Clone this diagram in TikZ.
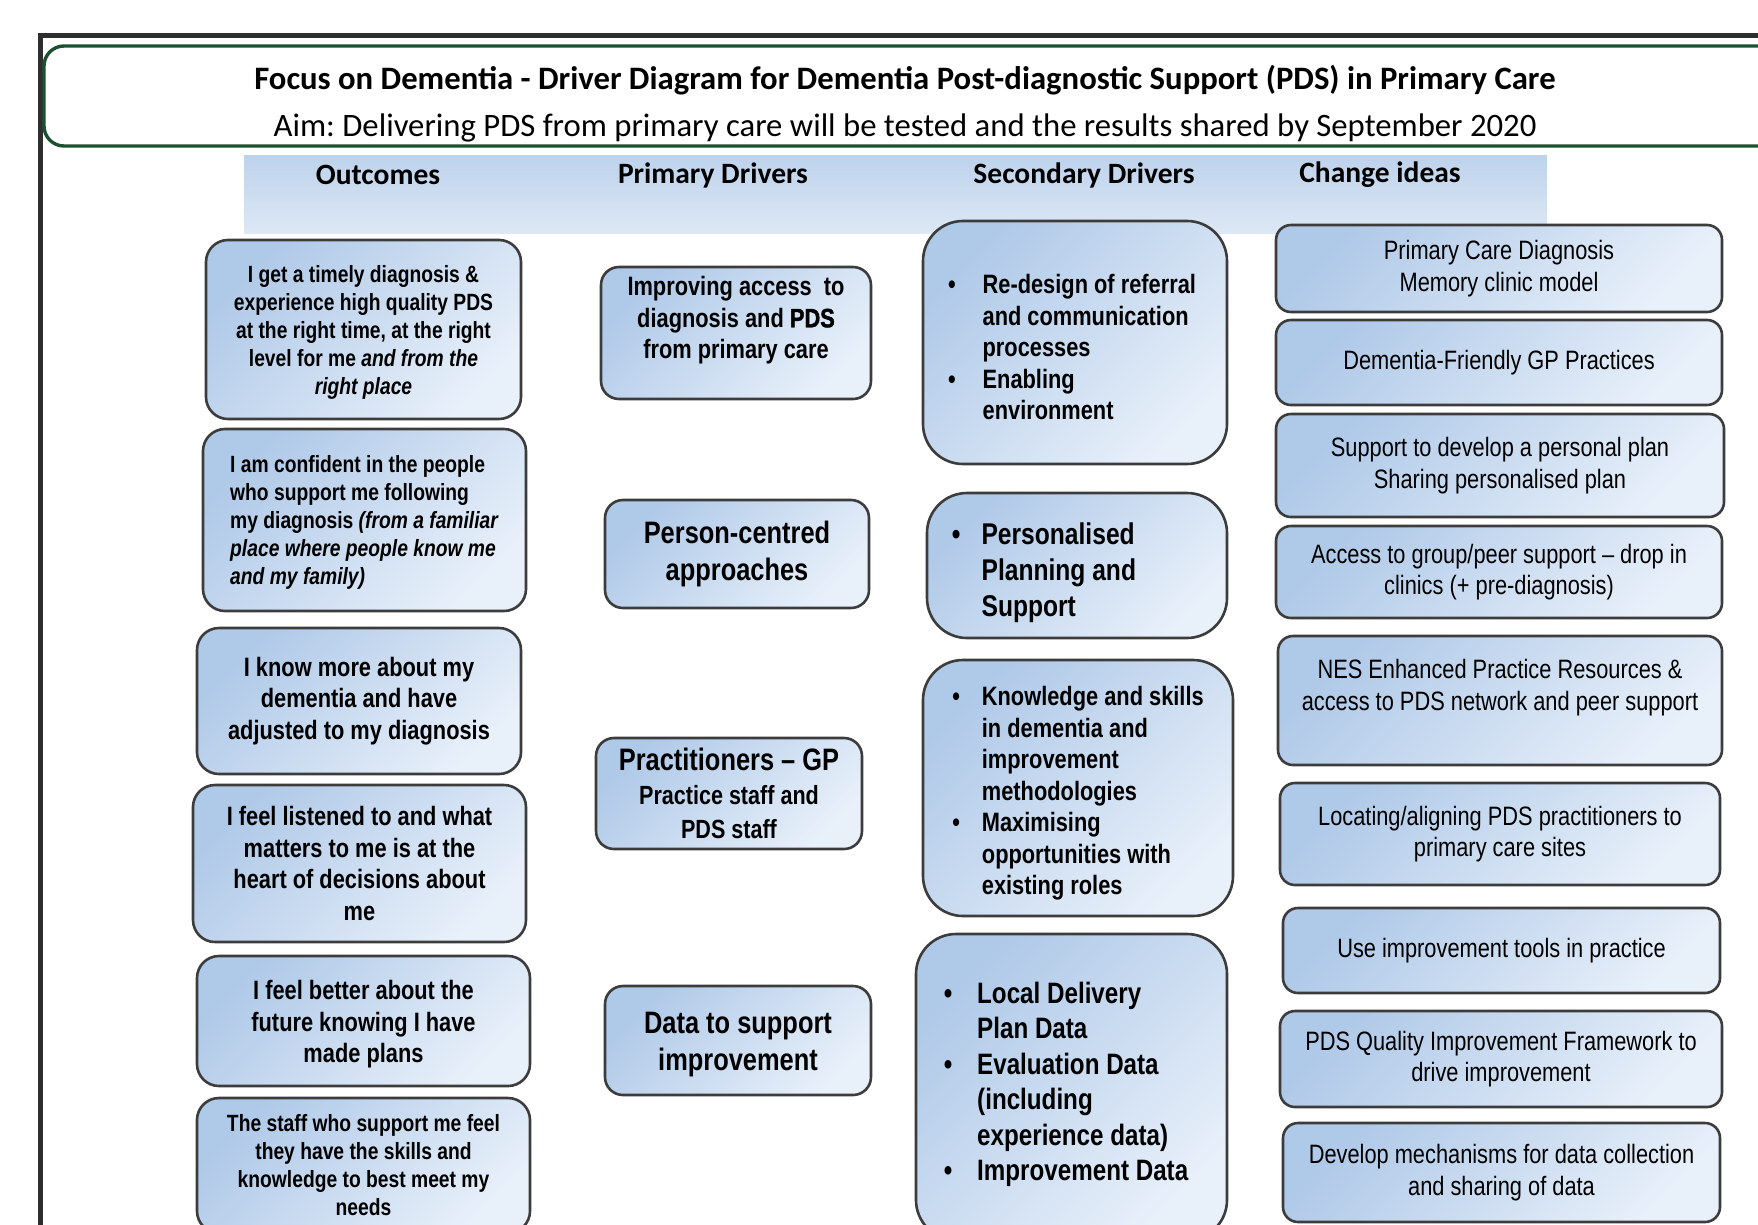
\documentclass[tikz,border=0pt]{standalone}
\usepackage{fontspec}
\setmainfont{Liberation Sans}
\newfontfamily\calib{Carlito}
\newfontfamily\narrow[FakeStretch=0.82]{Liberation Sans}
\newfontfamily\heavy[FakeStretch=0.82,FakeBold=1.4]{Liberation Sans Bold}
\frenchspacing
\definecolor{boxtop}{HTML}{AFC9E8}
\definecolor{boxbot}{HTML}{E8F0FA}
\definecolor{boxline}{HTML}{3C3C3C}
\definecolor{framegray}{HTML}{2E2E2E}
\definecolor{titlegreen}{HTML}{1C5030}
\definecolor{bandtop}{HTML}{BDD2EC}
\definecolor{bandbot}{HTML}{DDE8F5}
\tikzset{
  box/.style={draw=boxline, line width=2.6pt, top color=boxtop, bottom color=boxbot,
    shading angle=45, align=center, inner sep=0pt},
  outbox/.style={box, rounded corners=22pt},
  pribox/.style={box, rounded corners=18pt},
  secbox/.style={box, rounded corners=40pt},
  chgbox/.style={box, rounded corners=15pt, font=\narrow\fontsize{26.6}{31.5}\selectfont},
  head/.style={font=\calib\bfseries\fontsize{29.5}{31}\selectfont, inner sep=0pt}
}
\newcommand{\smalltxt}{\narrow\bfseries\fontsize{23.5}{28}\selectfont}
\newcommand{\midtxt}{\narrow\bfseries\fontsize{26.6}{31.5}\selectfont}
\newcommand{\bigtxt}{\narrow\bfseries\fontsize{31}{37}\selectfont}
\newcommand{\bul}{\textbullet}
% shift a block of text inside its box, keeping the box where it is
\newcommand{\nudge}[2]{\raisebox{#1}[\height][\depth]{#2}}
\begin{document}
\begin{tikzpicture}[x=1pt,y=-1pt]
\useasboundingbox (0,0) rectangle (1758,1224);
\clip (0,0) rectangle (1758,1224);

% frame and title
\draw[framegray, line width=5pt] (40,1300) -- (40,35) -- (1800,35);
\draw[titlegreen, line width=3.4pt, rounded corners=20pt] (1800,46) -- (44,46) -- (44,146) -- (1800,146);
\node[font=\calib\bfseries\fontsize{32.7}{35}\selectfont, inner sep=0pt] (title) at (905,80)
  {Focus on Dementia - Driver Diagram for Dementia Post-diagnostic Support (PDS) in Primary Care};
\node[font=\calib\fontsize{32.7}{35}\selectfont, inner sep=0pt] (aim) at (905,128)
  {Aim: Delivering PDS from primary care will be tested and the results shared by September 2020};

% column headings
\shade[top color=bandtop, bottom color=bandbot] (244,155) rectangle (1547,233);
\node[head] (hout) at (378,175) {Outcomes};
\node[head] (hpri) at (713,175) {Primary Drivers};
\node[head] (hsec) at (1084,175) {Secondary Drivers};
\node[head] (hchg) at (1380,175) {Change ideas};

% outcomes
\node[outbox, font=\smalltxt, minimum width=315, minimum height=179] (o1) at (363.5,329.5)
  {\nudge{-3pt}{\begin{tabular}{@{}c@{}}I get a timely diagnosis \&\\experience high quality PDS\\at the right time, at the right\\level for me \textit{and from the}\\\textit{right place}\end{tabular}}};
\node[outbox, font=\smalltxt, minimum width=323, minimum height=182] (o2) at (364.5,520)
  {\nudge{-3pt}{\begin{tabular}{@{}l@{}}I am confident in the people\\who support me following\\my diagnosis \textit{(from a familiar}\\\textit{place where people know me}\\\textit{and my family)}\end{tabular}}};
\node[outbox, font=\midtxt, minimum width=324, minimum height=146] (o3) at (359,701)
  {I know more about my\\dementia and have\\adjusted to my diagnosis};
\node[outbox, font=\midtxt, minimum width=333, minimum height=157] (o4) at (359.5,863.5)
  {I feel listened to and what\\matters to me is at the\\heart of decisions about\\me};
\node[outbox, font=\midtxt, minimum width=333, minimum height=130] (o5) at (363.5,1021)
  {\nudge{-4pt}{\begin{tabular}{@{}c@{}}I feel better about the\\future knowing I have\\made plans\end{tabular}}};
\node[outbox, font=\smalltxt, minimum width=333, minimum height=135] (o6) at (363.5,1165.5)
  {The staff who support me feel\\they have the skills and\\knowledge to best meet my\\needs};

% primary drivers
\node[pribox, font=\midtxt, minimum width=270, minimum height=132] (p1) at (736,333)
  {\nudge{12pt}{\begin{tabular}{@{}c@{}}Improving access\ \ to\\diagnosis and {\heavy PDS}\\from primary care\end{tabular}}};
\node[pribox, font=\bigtxt, minimum width=264, minimum height=108] (p2) at (737,554)
  {Person-centred\\approaches};
\node[pribox, font=\bigtxt, minimum width=266, minimum height=111] (p3) at (729,793.5)
  {Practitioners \textendash{} GP\\[-3pt]{\fontsize{26.3}{33}\selectfont Practice staff and}\\[-3pt]{\fontsize{26.3}{33}\selectfont PDS staff}};
\node[pribox, font=\bigtxt, minimum width=266, minimum height=109] (p4) at (738,1040.5)
  {\nudge{-4pt}{\begin{tabular}{@{}c@{}}Data to support\\improvement\end{tabular}}};

% secondary drivers
\node[secbox, font=\midtxt, minimum width=304, minimum height=243] (s1) at (1075,342.5)
  {\nudge{-8pt}{\begin{tabular}{@{}l@{\hspace{27pt}}l@{\hspace{6pt}}}
   \bul & Re-design of referral\\ & and communication\\ & processes\\
   \bul & Enabling\\ & environment
   \end{tabular}}};
\node[secbox, font=\narrow\bfseries\fontsize{30}{36}\selectfont, minimum width=300, minimum height=145] (s2) at (1077,565.5)
  {\nudge{-8pt}{\begin{tabular}{@{}l@{\hspace{21pt}}l@{\hspace{66pt}}}
   \bul & Personalised\\ & Planning and\\ & Support
   \end{tabular}}};
\node[secbox, font=\midtxt, minimum width=310, minimum height=256] (s3) at (1078,788)
  {\nudge{-6pt}{\begin{tabular}{@{}l@{\hspace{22pt}}l@{}}
   \bul & Knowledge and skills\\ & in dementia and\\ & improvement\\ & methodologies\\
   \bul & Maximising\\ & opportunities with\\ & existing roles
   \end{tabular}}};
\node[secbox, font=\narrow\bfseries\fontsize{29.5}{35.4}\selectfont, minimum width=311, minimum height=306] (s4) at (1071.5,1087)
  {\nudge{2pt}{\begin{tabular}{@{}l@{\hspace{25pt}}l@{\hspace{11pt}}}
   \bul & Local Delivery\\ & Plan Data\\
   \bul & Evaluation Data\\ & (including\\ & experience data)\\
   \bul & Improvement Data
   \end{tabular}}};

% change ideas
\node[chgbox, minimum width=446, minimum height=87] (c1) at (1499,268.5)
  {Primary Care Diagnosis\\Memory clinic model};
\node[chgbox, minimum width=446, minimum height=85] (c2) at (1499,362.5)
  {Dementia-Friendly GP Practices};
\node[chgbox, minimum width=448, minimum height=103] (c3) at (1500,465.5)
  {Support to develop a personal plan\\Sharing personalised plan};
\node[chgbox, minimum width=446, minimum height=92] (c4) at (1499,572)
  {Access to group/peer support \textendash{} drop in\\clinics (+ pre-diagnosis)};
\node[chgbox, minimum width=444, minimum height=129] (c5) at (1500,700.5)
  {NES Enhanced Practice Resources \&\\access to PDS network and peer support\\\mbox{}};
\node[chgbox, minimum width=440, minimum height=102] (c6) at (1500,834)
  {Locating/aligning PDS practitioners to\\primary care sites};
\node[chgbox, minimum width=437, minimum height=85] (c7) at (1501.5,950.5)
  {Use improvement tools in practice};
\node[chgbox, minimum width=442, minimum height=96] (c8) at (1501,1059)
  {PDS Quality Improvement Framework to\\drive improvement};
\node[chgbox, minimum width=437, minimum height=99] (c9) at (1501.5,1172.5)
  {Develop mechanisms for data collection\\and sharing of data};
\end{tikzpicture}
\end{document}
